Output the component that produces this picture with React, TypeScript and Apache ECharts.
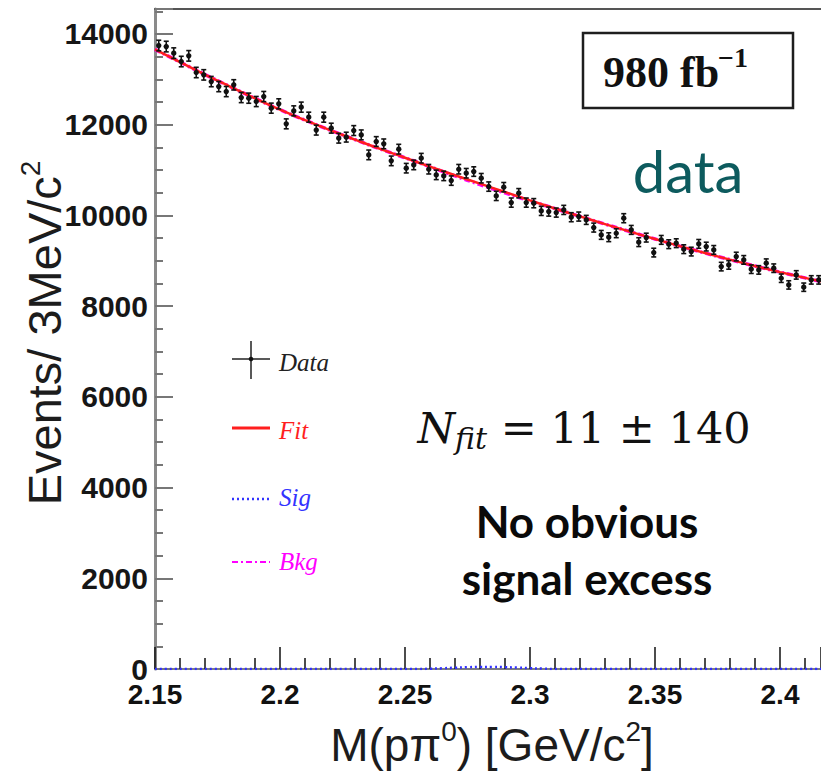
import React, { useEffect, useRef } from "react";
import * as echarts from "echarts";

// ---- data ----
const BIN_START = 2.15; // GeV/c^2, lower edge of first bin
const BIN_WIDTH = 0.003; // 3 MeV/c^2 bins

const dataCounts = [
  13744, 13722, 13577, 13392, 13517, 13150, 13098, 12950, 12840, 12730,
  12878, 12598, 12584, 12510, 12620, 12364, 12459, 12018, 12304, 12386,
  12165, 11880, 12165, 11923, 11702, 11725, 11870, 11775, 11334, 11628,
  11577, 11202, 11460, 11041, 11113, 11261, 11018, 10893, 10871, 10767,
  11018, 10930, 10966, 10820, 10635, 10430, 10622, 10282, 10489, 10282,
  10269, 10099, 10084, 10062, 10121, 9960, 9974, 9901, 9731, 9570,
  9519, 9607, 9938, 9680, 9410, 9510, 9180, 9460, 9365, 9387,
  9255, 9202, 9372, 9312, 9239, 8871, 8908, 9092, 9019, 8814,
  8798, 8946, 8836, 8615, 8467, 8688, 8417, 8578, 8578,
];

const fitMass = [
  2.15, 2.16, 2.17, 2.18, 2.19, 2.2, 2.21, 2.22, 2.23, 2.24, 2.25, 2.26, 2.27, 2.28,
  2.29, 2.3, 2.31, 2.32, 2.33, 2.34, 2.35, 2.36, 2.37, 2.38, 2.39, 2.4, 2.41, 2.4164,
];
const fitValues = [
  13660, 13380, 13105, 12840, 12580, 12330, 12100, 11880, 11670, 11465, 11270, 11075, 10885, 10700,
  10515, 10330, 10152, 9978, 9808, 9642, 9480, 9322, 9170, 9024, 8884, 8750, 8622, 8545,
];
const bkgValues = [
  13660, 13380, 13105, 12840, 12580, 12330, 12100, 11880, 11670, 11465, 11270, 11072, 10870, 10680,
  10495, 10320, 10150, 9978, 9808, 9642, 9480, 9322, 9170, 9024, 8884, 8750, 8622, 8545,
];

const sigMass = [2.15, 2.255, 2.26, 2.265, 2.27, 2.275, 2.28, 2.285, 2.29, 2.295, 2.3, 2.305, 2.31, 2.4164];
const sigValues = [0, 0, 5, 15, 28, 38, 45, 45, 40, 30, 18, 8, 0, 0];

const X_MIN = 2.15;
const X_MAX = 2.4164;
const Y_MIN = 0;
const Y_MAX = 14550;

const legendLabels = ["Data", "Fit", "Sig", "Bkg"];
const lumiText = "980 fb";
const lumiSup = "\u22121";
const nfitValue = "11";
const nfitError = "140";

// ---- chart ----
const SANS = "'Liberation Sans', Arial, sans-serif";
const SERIF = "'Liberation Serif', 'Times New Roman', serif";

function buildOption(): any {
  const points = dataCounts.map((v, k) => [BIN_START + BIN_WIDTH * (k + 0.5), v, Math.sqrt(v)]);
  const fitData = fitMass.map((m, i) => [m, fitValues[i]]);
  const bkgData = fitMass.map((m, i) => [m, bkgValues[i]]);
  const sigData = sigMass.map((m, i) => [m, sigValues[i]]);

  const legendX0 = 232;
  const legendX1 = 270;
  const legendTextX = 279;

  return {
    animation: false,
    backgroundColor: "#ffffff",
    grid: { left: 155, right: 0, top: 9, bottom: 107, containLabel: false },
    xAxis: [
      {
        type: "value",
        min: X_MIN,
        max: X_MAX,
        interval: 0.05,
        splitLine: { show: false },
        axisLine: { show: true, onZero: false, lineStyle: { color: "#555", width: 1.5 } },
        axisTick: { show: true, inside: true, length: 22, lineStyle: { color: "#111", width: 1.5 } },
        minorTick: { show: true, splitNumber: 5, length: 11, lineStyle: { color: "#111", width: 1.5 } },
        axisLabel: {
          show: true,
          margin: 11,
          showMaxLabel: false,
          color: "#111",
          fontFamily: SANS,
          fontWeight: "bold",
          fontSize: 28,
          formatter: (v: number) => String(parseFloat(v.toFixed(3))),
        },
      },
      {
        type: "value",
        position: "top",
        min: X_MIN,
        max: X_MAX,
        axisLine: { show: true, onZero: false, lineStyle: { color: "#555", width: 2 } },
        axisTick: { show: false },
        axisLabel: { show: false },
        splitLine: { show: false },
      },
    ],
    yAxis: {
      type: "value",
      min: Y_MIN,
      max: Y_MAX,
      interval: 2000,
      splitLine: { show: false },
      axisLine: { show: true, onZero: false, lineStyle: { color: "#8a8a8a", width: 3 } },
      axisTick: { show: true, inside: true, length: 18, lineStyle: { color: "#777", width: 2 } },
      minorTick: { show: true, splitNumber: 4, length: 8, lineStyle: { color: "#777", width: 2 } },
      axisLabel: {
        show: true,
        margin: 7,
        showMaxLabel: false,
        color: "#161616",
        fontFamily: SANS,
        fontWeight: "bold",
        fontSize: 30,
        formatter: (v: number) => String(Math.round(v)),
      },
    },
    series: [
      {
        name: "Sig",
        type: "line",
        data: sigData,
        smooth: true,
        symbol: "none",
        lineStyle: { color: "#2f2fff", width: 2.5, type: [2, 3] },
        z: 3,
      },
      {
        name: "Bkg",
        type: "line",
        data: bkgData,
        smooth: true,
        symbol: "none",
        lineStyle: { color: "#ff00ff", width: 3.5, type: [6, 3, 2, 3] },
        z: 3,
      },
      {
        name: "Fit",
        type: "line",
        data: fitData,
        smooth: true,
        symbol: "none",
        lineStyle: { color: "#ff1e1e", width: 2.5 },
        z: 4,
      },
      {
        name: "Data",
        type: "custom",
        data: points,
        encode: { x: 0, y: 1 },
        z: 5,
        renderItem: (params: any, api: any) => {
          const x = api.value(0);
          const y = api.value(1);
          const e = api.value(2);
          const c = api.coord([x, y]);
          const t = api.coord([x, y + e]);
          const b = api.coord([x, y - e]);
          const st = { stroke: "#111", lineWidth: 1.6 };
          return {
            type: "group",
            children: [
              { type: "line", shape: { x1: c[0], y1: t[1], x2: c[0], y2: b[1] }, style: st },
              { type: "line", shape: { x1: c[0] - 2.5, y1: t[1], x2: c[0] + 2.5, y2: t[1] }, style: st },
              { type: "line", shape: { x1: c[0] - 2.5, y1: b[1], x2: c[0] + 2.5, y2: b[1] }, style: st },
              { type: "circle", shape: { cx: c[0], cy: c[1], r: 2.7 }, style: { fill: "#111" } },
            ],
          };
        },
      },
    ],
    graphic: [
      // y-axis title
      {
        type: "text",
        x: 44,
        y: 333,
        rotation: Math.PI / 2,
        style: {
          text: "{m|Events/ 3MeV/c}{s|2}",
          align: "center",
          verticalAlign: "middle",
          fill: "#1c1c1c",
          rich: {
            m: { fontFamily: SANS, fontSize: 47, lineHeight: 56, fill: "#1c1c1c" },
            s: { fontFamily: SANS, fontSize: 28, lineHeight: 30, verticalAlign: "top", fill: "#1c1c1c" },
          },
        },
      },
      // x-axis title
      {
        type: "text",
        x: 492,
        y: 745,
        style: {
          text: "{m|M(p\u03c0}{s|0}{m|) [GeV/c}{s|2}{m|]}",
          align: "center",
          verticalAlign: "middle",
          fill: "#1c1c1c",
          rich: {
            m: { fontFamily: SANS, fontSize: 46, lineHeight: 56, fill: "#1c1c1c" },
            s: { fontFamily: SANS, fontSize: 28, lineHeight: 30, verticalAlign: "top", fill: "#1c1c1c" },
          },
        },
      },
      // luminosity box
      {
        type: "rect",
        shape: { x: 583, y: 33, width: 210, height: 75 },
        style: { fill: "#ffffff", stroke: "#1e1e1e", lineWidth: 2.5 },
        z: 10,
      },
      {
        type: "text",
        x: 603,
        y: 72,
        z: 11,
        style: {
          text: lumiText,
          fontFamily: SERIF,
          fontWeight: "bold",
          fontSize: 44,
          fill: "#111",
          align: "left",
          verticalAlign: "middle",
        },
      },
      {
        type: "text",
        x: 718,
        y: 57,
        z: 11,
        style: {
          text: lumiSup,
          fontFamily: SERIF,
          fontWeight: "bold",
          fontSize: 28,
          fill: "#111",
          align: "left",
          verticalAlign: "middle",
        },
      },
      // "data"
      {
        type: "text",
        x: 688,
        y: 170,
        style: {
          text: "data",
          fontFamily: "Lato, 'Open Sans', sans-serif",
          fontSize: 58,
          fill: "#0d5b5e",
          align: "center",
          verticalAlign: "middle",
        },
      },
      // N_fit
      {
        type: "text",
        x: 584,
        y: 428,
        style: {
          text: "{n|N}{b|fit}{r| = " + nfitValue + " \u00b1 " + nfitError + "}",
          align: "center",
          verticalAlign: "middle",
          fill: "#111",
          rich: {
            n: { fontFamily: "'DejaVu Serif', serif", fontStyle: "italic", fontSize: 43, lineHeight: 50, fill: "#111" },
            b: {
              fontFamily: "'DejaVu Serif', serif",
              fontStyle: "italic",
              fontSize: 30,
              lineHeight: 30,
              verticalAlign: "bottom",
              fill: "#111",
            },
            r: { fontFamily: "'DejaVu Serif', serif", fontSize: 43, lineHeight: 50, fill: "#111" },
          },
        },
      },
      // No obvious signal excess
      {
        type: "text",
        x: 587,
        y: 521,
        style: {
          text: "No obvious",
          fontFamily: "Lato, 'Open Sans', sans-serif",
          fontWeight: "bold",
          fontSize: 44,
          fill: "#0a0a0a",
          align: "center",
          verticalAlign: "middle",
        },
      },
      {
        type: "text",
        x: 587,
        y: 578,
        style: {
          text: "signal excess",
          fontFamily: "Lato, 'Open Sans', sans-serif",
          fontWeight: "bold",
          fontSize: 44,
          fill: "#0a0a0a",
          align: "center",
          verticalAlign: "middle",
        },
      },
      // legend: Data
      { type: "line", shape: { x1: legendX0, y1: 359, x2: legendX1, y2: 359 }, style: { stroke: "#222", lineWidth: 1.5 } },
      { type: "line", shape: { x1: 251, y1: 341, x2: 251, y2: 379 }, style: { stroke: "#222", lineWidth: 1.5 } },
      { type: "circle", shape: { cx: 251, cy: 359, r: 2.3 }, style: { fill: "#111" } },
      {
        type: "text",
        x: legendTextX,
        y: 362,
        style: { text: legendLabels[0], fontFamily: SERIF, fontStyle: "italic", fontSize: 25, fill: "#222", verticalAlign: "middle" },
      },
      // legend: Fit
      { type: "line", shape: { x1: legendX0, y1: 428, x2: legendX1, y2: 428 }, style: { stroke: "#ff1e1e", lineWidth: 3 } },
      {
        type: "text",
        x: legendTextX,
        y: 430,
        style: { text: legendLabels[1], fontFamily: SERIF, fontStyle: "italic", fontSize: 25, fill: "#ff1e1e", verticalAlign: "middle" },
      },
      // legend: Sig
      {
        type: "line",
        shape: { x1: legendX0, y1: 499, x2: legendX1, y2: 499 },
        style: { stroke: "#3333ff", lineWidth: 2.5, lineDash: [2, 3] },
      },
      {
        type: "text",
        x: legendTextX,
        y: 497,
        style: { text: legendLabels[2], fontFamily: SERIF, fontStyle: "italic", fontSize: 25, fill: "#3333ff", verticalAlign: "middle" },
      },
      // legend: Bkg
      {
        type: "line",
        shape: { x1: legendX0, y1: 562, x2: legendX1, y2: 562 },
        style: { stroke: "#ff00ff", lineWidth: 2, lineDash: [6, 3, 2, 3] },
      },
      {
        type: "text",
        x: legendTextX,
        y: 561,
        style: { text: legendLabels[3], fontFamily: SERIF, fontStyle: "italic", fontSize: 25, fill: "#ff00ff", verticalAlign: "middle" },
      },
    ],
  };
}

export default function App() {
  const ref = useRef<HTMLDivElement>(null);
  useEffect(() => {
    if (!ref.current) return;
    const chart = echarts.init(ref.current, null, { renderer: "svg" });
    chart.setOption(buildOption());
    return () => chart.dispose();
  }, []);
  return (
    <div
      ref={ref}
      style={{ position: "fixed", left: 0, top: 0, width: 821, height: 776, background: "#ffffff" }}
    />
  );
}
